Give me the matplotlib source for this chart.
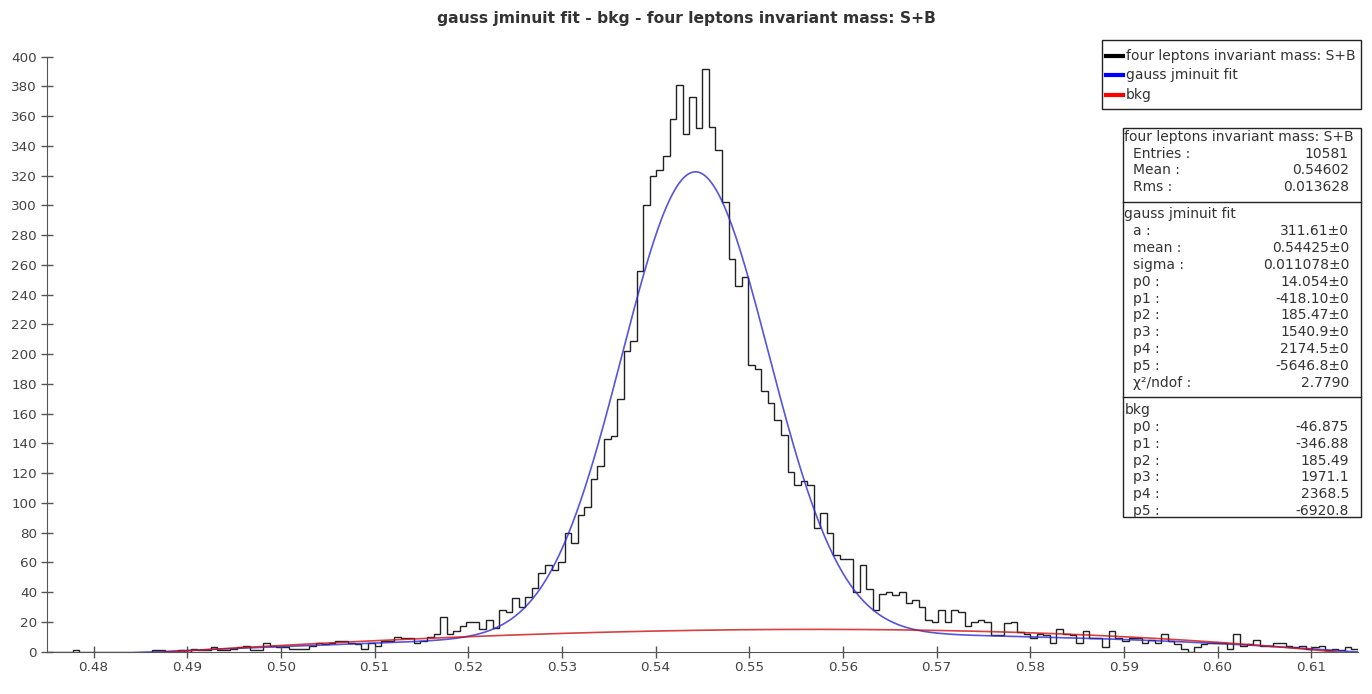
import numpy as np
import matplotlib
matplotlib.use("Agg")
import matplotlib.pyplot as plt
from matplotlib.patches import Rectangle
from matplotlib.lines import Line2D

# histogram: 200 bins between 0.475 and 0.615
x_min, x_max, n_bins = 0.475, 0.615, 200
counts = [
    0, 0, 0, 0, 1, 0, 0, 0, 0, 0,
    0, 0, 0, 0, 0, 0, 1, 1, 0, 0,
    1, 0, 2, 1, 1, 3, 1, 1, 2, 3,
    4, 1, 1, 6, 4, 3, 3, 2, 2, 2,
    4, 6, 5, 6, 7, 7, 6, 5, 2, 6,
    4, 7, 7, 10, 9, 9, 6, 7, 10, 12,
    23, 12, 14, 17, 20, 20, 15, 21, 16, 28,
    27, 36, 30, 37, 43, 53, 58, 55, 60, 80,
    73, 92, 97, 116, 125, 143, 145, 170, 202, 209,
    256, 300, 320, 324, 333, 358, 381, 348, 373, 352,
    392, 353, 337, 302, 264, 246, 252, 193, 190, 175,
    167, 156, 146, 121, 112, 115, 112, 83, 93, 80,
    65, 62, 62, 40, 58, 42, 28, 39, 40, 38,
    40, 33, 35, 30, 21, 20, 28, 20, 28, 27,
    17, 20, 21, 20, 11, 11, 19, 20, 13, 12,
    9, 12, 11, 6, 15, 12, 11, 6, 14, 9,
    9, 3, 14, 9, 7, 9, 9, 6, 8, 6,
    12, 7, 5, 2, 0, 3, 5, 6, 6, 6,
    2, 12, 4, 5, 8, 4, 4, 6, 6, 4,
    3, 4, 2, 3, 4, 1, 2, 1, 3, 2,
]

# fit parameters (from the stats box)
fit_a, fit_mean, fit_sigma = 311.61, 0.54425, 0.011078
fit_poly = [14.054, -418.10, 185.47, 1540.9, 2174.5, -5646.8]
bkg_poly = [-46.875, -346.88, 185.49, 1971.1, 2368.5, -6920.8]

hist_label = "four leptons invariant mass: S+B"
fit_label = "gauss jminuit fit"
bkg_label = "bkg"
title = "gauss jminuit fit - bkg - four leptons invariant mass: S+B"

stats_hist = [("Entries :", "10581"), ("Mean :", "0.54602"), ("Rms :", "0.013628")]
stats_fit = [("a :", "311.61\u00b10"), ("mean :", "0.54425\u00b10"), ("sigma :", "0.011078\u00b10"),
             ("p0 :", "14.054\u00b10"), ("p1 :", "-418.10\u00b10"), ("p2 :", "185.47\u00b10"),
             ("p3 :", "1540.9\u00b10"), ("p4 :", "2174.5\u00b10"), ("p5 :", "-5646.8\u00b10"),
             ("\u03c7\u00b2/ndof :", "2.7790")]
stats_bkg = [("p0 :", "-46.875"), ("p1 :", "-346.88"), ("p2 :", "185.49"),
             ("p3 :", "1971.1"), ("p4 :", "2368.5"), ("p5 :", "-6920.8")]

W, H = 1372, 694
fs = 10
tick_fs = 9.7
txt_col = "#333333"


def fx(px):
    return px / W


def fy(py):
    return 1 - py / H


def poly(c, x):
    return sum(ci * x ** i for i, ci in enumerate(c))


fig = plt.figure(figsize=(W / 100, H / 100), dpi=100)
ax = fig.add_axes([fx(46.7), fy(651.7), fx(1358) - fx(46.7), fy(56.7) - fy(651.7)])

edges = np.linspace(x_min, x_max, n_bins + 1)
ax.stairs(counts, edges, color="#222222", lw=1.0)

# fit model: a*exp(-((x-mean)/sigma)^2) + 5th order polynomial
xs = np.linspace(x_min, x_max, 600)
ys_fit = fit_a * np.exp(-((xs - fit_mean) / fit_sigma) ** 2) + poly(fit_poly, xs)
ys_bkg = poly(bkg_poly, xs)
ax.plot(xs, ys_fit, color="#2a2ad8", lw=1.2, alpha=0.8)
ax.plot(xs, ys_bkg, color="#d01010", lw=1.2, alpha=0.8)

ax.set_xlim(x_min, x_max)
ax.set_ylim(0, 400)
xt = np.arange(0.48, 0.6101, 0.01)
ax.set_xticks(xt)
ax.set_xticklabels(["%.2f" % t for t in xt])
ax.set_yticks(np.arange(0, 401, 20))
for s in ["top", "right"]:
    ax.spines[s].set_visible(False)
for s in ["left", "bottom"]:
    ax.spines[s].set_color("#555555")
ax.tick_params(direction="inout", length=8, width=1, color="#555555",
               labelsize=tick_fs, labelcolor="#444444", pad=3)

fig.text(0.5, fy(19), title, ha="center", va="center", fontsize=11.2,
         fontweight="bold", color="#333333")

# legend box
fig.patches.append(Rectangle((fx(1101.7), fy(109)), fx(1360.7) - fx(1101.7), fy(40) - fy(109),
                             transform=fig.transFigure, fill=False, ec="#222222", lw=1))
for yy, col, lab in [(55.7, "black", hist_label), (74.7, "blue", fit_label), (95, "red", bkg_label)]:
    fig.lines.append(Line2D([fx(1105.7), fx(1123)], [fy(yy), fy(yy)], transform=fig.transFigure,
                            color=col, lw=3))
    fig.text(fx(1125.7), fy(yy), lab, ha="left", va="center", fontsize=fs, color=txt_col)

# stats box
fig.patches.append(Rectangle((fx(1123.3), fy(516.7)), fx(1360.7) - fx(1123.3), fy(127.7) - fy(516.7),
                             transform=fig.transFigure, fill=False, ec="#222222", lw=1))
for yy in [201.7, 396.7]:
    fig.lines.append(Line2D([fx(1123.3), fx(1360.7)], [fy(yy), fy(yy)], transform=fig.transFigure,
                            color="#222222", lw=1))

row_h = 16.85


def stats_block(y0, head, rows):
    fig.text(fx(1124.3), fy(y0), head, ha="left", va="center", fontsize=fs, color=txt_col)
    for i, (k, v) in enumerate(rows):
        yy = y0 + (i + 1) * row_h
        fig.text(fx(1133.3), fy(yy), k, ha="left", va="center", fontsize=fs, color=txt_col)
        fig.text(fx(1349), fy(yy), v, ha="right", va="center", fontsize=fs, color=txt_col)


stats_block(136.7, hist_label, stats_hist)
stats_block(214.3, fit_label, stats_fit)
stats_block(410, bkg_label, stats_bkg)

fig.savefig("out.png", dpi=100)
